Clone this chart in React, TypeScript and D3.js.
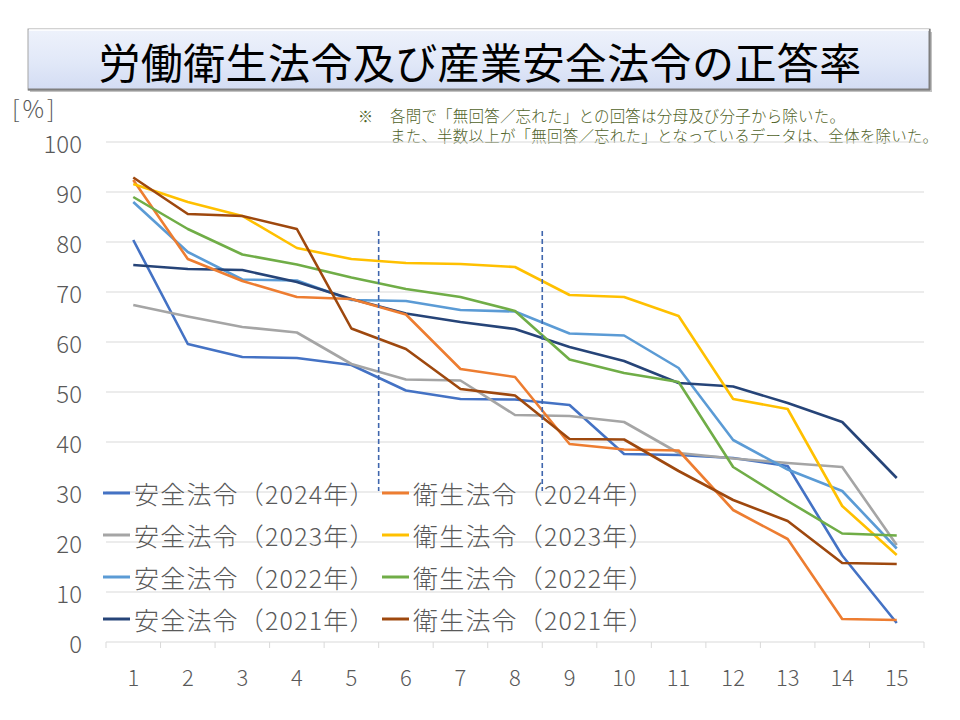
import React from "react";
import * as d3 from "d3";

const categories = [1, 2, 3, 4, 5, 6, 7, 8, 9, 10, 11, 12, 13, 14, 15];
const yTicks = [0, 10, 20, 30, 40, 50, 60, 70, 80, 90, 100];

const anzen2024 = [80.4, 59.6, 57.0, 56.8, 55.4, 50.3, 48.6, 48.5, 47.4, 37.6, 37.4, 36.8, 35.2, 17.3, 3.8];
const eisei2024 = [92.4, 76.6, 72.2, 69.0, 68.6, 65.5, 54.6, 53.0, 39.6, 38.5, 38.3, 26.4, 20.6, 4.6, 4.4];
const anzen2023 = [67.4, 65.1, 63.0, 61.9, 55.6, 52.5, 52.3, 45.4, 45.2, 44.0, 37.8, 36.7, 35.8, 35.0, 19.4];
const eisei2023 = [91.6, 88.0, 85.2, 78.8, 76.6, 75.8, 75.6, 75.0, 69.4, 69.0, 65.2, 48.6, 46.6, 27.2, 17.4];
const anzen2022 = [88.0, 78.0, 72.5, 72.3, 68.4, 68.2, 66.4, 66.1, 61.7, 61.3, 54.8, 40.4, 34.5, 30.2, 18.7];
const eisei2022 = [89.0, 82.6, 77.5, 75.5, 72.9, 70.6, 69.0, 66.2, 56.5, 53.8, 52.0, 35.0, 28.2, 21.7, 21.3];
const anzen2021 = [75.4, 74.6, 74.4, 72.0, 68.6, 65.7, 64.0, 62.6, 59.0, 56.2, 51.8, 51.1, 47.8, 44.0, 32.8];
const eisei2021 = [92.9, 85.6, 85.2, 82.6, 62.7, 58.6, 50.6, 49.3, 40.6, 40.5, 34.2, 28.4, 24.2, 15.8, 15.6];

const seriesNames = [
  "安全法令（2024年）",
  "衛生法令（2024年）",
  "安全法令（2023年）",
  "衛生法令（2023年）",
  "安全法令（2022年）",
  "衛生法令（2022年）",
  "安全法令（2021年）",
  "衛生法令（2021年）",
];
const seriesValues = [anzen2024, eisei2024, anzen2023, eisei2023, anzen2022, eisei2022, anzen2021, eisei2021];
const seriesColors = ["#4472C4", "#ED7D31", "#A5A5A5", "#FFC000", "#5B9BD5", "#70AD47", "#264478", "#9E480E"];

// draw order (back to front) approximating the reference
const drawOrder = [0, 2, 4, 6, 1, 3, 5, 7];

const dividers = [5.5, 8.5];

const titleText = "労働衛生法令及び産業安全法令の正答率";
const noteLines = [
  "各問で「無回答／忘れた」との回答は分母及び分子から除いた。",
  "また、半数以上が「無回答／忘れた」となっているデータは、全体を除いた。",
];
const unitLabel = "[%]";

const W = 960;
const H = 720;
const plotLeft = 106;
const plotRight = 924;
const plotTop = 142;
const plotBottom = 642;

const FONT = "'Noto Sans CJK JP', 'Noto Sans', sans-serif";

export default function App() {
  const x = d3
    .scaleBand<number>()
    .domain(categories)
    .range([plotLeft, plotRight]);
  const y = d3.scaleLinear().domain([0, 100]).range([plotBottom, plotTop]);
  const cx = (c: number) => (x(c) as number) + x.bandwidth() / 2;
  const xPos = d3.scaleLinear().domain([1, 15]).range([cx(1), cx(15)]);

  const line = d3
    .line<number>()
    .x((_, i) => cx(categories[i]))
    .y((d) => y(d));

  const boundaries = d3.range(categories.length + 1).map((i) => plotLeft + i * x.bandwidth());

  const legendRows = [493, 535, 577, 619];
  const legendCols = [103, 382];

  return (
    <svg width={W} height={H} style={{ position: "absolute", left: 0, top: 0, background: "#fff" }}>
      <defs>
        <linearGradient id="titleGrad" x1="0" y1="0" x2="0" y2="1">
          <stop offset="0%" stopColor="#eef2fb" />
          <stop offset="55%" stopColor="#e1e8f8" />
          <stop offset="100%" stopColor="#d3dcf3" />
        </linearGradient>
      </defs>
      <rect x={0} y={0} width={W} height={H} fill="#ffffff" />

      {/* Title box */}
      <rect x={30} y={32} width={902} height={60} fill="#9a9a9a" opacity={0.6} />
      <rect x={28} y={29} width={902} height={61} fill="url(#titleGrad)" stroke="#a6a6a6" strokeWidth={1} />
      <line x1={28} y1={89.5} x2={930} y2={89.5} stroke="#7f7f7f" strokeWidth={2} />
      <line x1={929.5} y1={29} x2={929.5} y2={90} stroke="#7f7f7f" strokeWidth={2} />
      <line x1={29} y1={30} x2={929} y2={30} stroke="#ffffff" strokeWidth={1.5} />
      <text
        x={480}
        y={60}
        textAnchor="middle"
        dominantBaseline="central"
        fontFamily={FONT}
        fontSize={42}
        fontWeight={400}
        letterSpacing={0.4}
        fill="#000"
      >
        {titleText}
      </text>

      {/* Unit label */}
      <text x={12} y={107} dominantBaseline="central" fontFamily={FONT} fontSize={24} fontWeight={300} letterSpacing={3} fill="#595959">
        {unitLabel}
      </text>

      {/* Note */}
      <text x={358} y={115} dominantBaseline="central" fontFamily={FONT} fontSize={15} fill="#4f6228">
        ※
      </text>
      {noteLines.map((t, i) => (
        <text
          key={i}
          x={390}
          y={115 + i * 20}
          dominantBaseline="central"
          fontFamily={FONT}
          fontSize={15.5}
          fontWeight={300}
          letterSpacing={0.2}
          fill="#4f6228"
        >
          {t}
        </text>
      ))}

      {/* Gridlines */}
      {yTicks.map((t) =>
        t === 0 ? null : (
          <line key={t} x1={plotLeft} x2={plotRight} y1={y(t)} y2={y(t)} stroke="#d9d9d9" strokeWidth={1} />
        )
      )}
      {/* Y labels */}
      {yTicks.map((t) => (
        <text
          key={"yl" + t}
          x={82}
          y={y(t)}
          textAnchor="end"
          dominantBaseline="central"
          fontFamily={FONT}
          fontSize={24}
          fontWeight={300}
          fill="#595959"
        >
          {t}
        </text>
      ))}

      {/* X axis */}
      <line x1={plotLeft} x2={plotRight} y1={plotBottom} y2={plotBottom} stroke="#d9d9d9" strokeWidth={1} />
      {boundaries.map((b, i) => (
        <line key={"tk" + i} x1={b} x2={b} y1={plotBottom} y2={plotBottom + 6} stroke="#d9d9d9" strokeWidth={1} />
      ))}
      {categories.map((c) => (
        <text
          key={"xl" + c}
          x={cx(c)}
          y={676}
          textAnchor="middle"
          dominantBaseline="central"
          fontFamily={FONT}
          fontSize={22}
          fontWeight={300}
          fill="#595959"
        >
          {c}
        </text>
      ))}

      {/* Series lines */}
      {drawOrder.map((si) => (
        <path
          key={"s" + si}
          d={line(seriesValues[si]) || ""}
          fill="none"
          stroke={seriesColors[si]}
          strokeWidth={2.6}
          strokeLinejoin="round"
        />
      ))}

      {/* Divider dashed lines */}
      {dividers.map((dv, i) => (
        <line
          key={"dv" + i}
          x1={xPos(dv)}
          x2={xPos(dv)}
          y1={231}
          y2={491}
          stroke="#3f66ad"
          strokeWidth={1.6}
          strokeDasharray="5,3"
        />
      ))}

      {/* Legend */}
      {seriesNames.map((name, i) => {
        const col = i % 2;
        const row = Math.floor(i / 2);
        const lx = legendCols[col];
        const ly = legendRows[row];
        return (
          <g key={"lg" + i}>
            <line x1={lx} x2={lx + 27} y1={ly} y2={ly} stroke={seriesColors[i]} strokeWidth={3} />
            <text
              x={lx + 31}
              y={ly}
              dominantBaseline="central"
              fontFamily={FONT}
              fontSize={25}
              fontWeight={300}
              letterSpacing={1.2}
              fill="#595959"
            >
              {name}
            </text>
          </g>
        );
      })}
    </svg>
  );
}
